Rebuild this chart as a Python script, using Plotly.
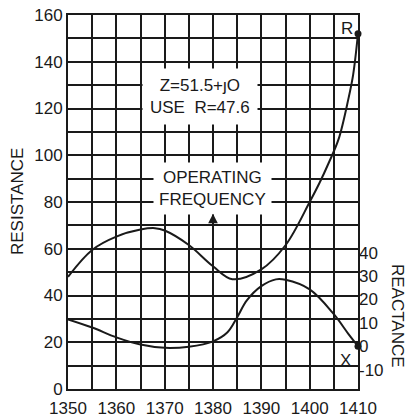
import plotly.graph_objects as go

# Resistance curve (left axis)
r_freq = [1350, 1355, 1360, 1365, 1368, 1370, 1375, 1380, 1384, 1390, 1395, 1400, 1402, 1404, 1406, 1408, 1409, 1410]
r_vals = [48, 59.5, 65.2, 68.2, 68.8, 67.8, 61.6, 52.5, 47.0, 51.2, 61.5, 80, 88, 97, 107, 124, 134.5, 152]

# Reactance curve (right axis)
x_freq = [1350, 1355, 1360, 1365, 1370, 1375, 1380, 1383, 1385, 1387, 1390, 1393, 1395, 1400, 1405, 1408, 1410]
x_vals = [11.5, 8.0, 3.8, 0.7, -0.7, -0.2, 2.1, 6.0, 12.4, 19.6, 25.7, 28.6, 28.4, 24.3, 13.7, 5.3, 0]

x_ticks = [1350, 1360, 1370, 1380, 1390, 1400, 1410]
left_ticks = [0, 20, 40, 60, 80, 100, 120, 140, 160]
right_ticks = [-10, 0, 10, 20, 30, 40]
right_labels = ["-10", "0", "10", "20", "30", "40"]

FONT = "Liberation Sans"
INK = "#1a1a1a"
OFFSET = 18.3

fig = go.Figure()
fig.add_trace(go.Scatter(x=r_freq, y=r_vals, mode="lines", line=dict(color=INK, width=2, shape="spline", smoothing=1.0),
                         showlegend=False, hoverinfo="skip"))
fig.add_trace(go.Scatter(x=[r_freq[-1]], y=[r_vals[-1]], mode="markers", marker=dict(color=INK, size=7),
                         showlegend=False, cliponaxis=False))
fig.add_trace(go.Scatter(x=x_freq, y=x_vals, mode="lines", yaxis="y2",
                         line=dict(color=INK, width=2, shape="spline", smoothing=1.0),
                         showlegend=False, hoverinfo="skip"))
fig.add_trace(go.Scatter(x=[x_freq[-1]], y=[x_vals[-1]], mode="markers", yaxis="y2", marker=dict(color=INK, size=7),
                         showlegend=False, cliponaxis=False))

grid = dict(showgrid=True, gridcolor=INK, gridwidth=1.6, automargin=False)

fig.update_layout(
    width=411, height=420,
    margin=dict(l=68, r=53, t=15, b=31),
    paper_bgcolor="white", plot_bgcolor="white",
    font=dict(family=FONT, size=17, color=INK),
    xaxis=dict(range=[1350, 1410], tickvals=x_ticks, ticks="", zeroline=False,
               showline=True, mirror=True, linecolor=INK, linewidth=2, ticklabelstandoff=3,
               minor=dict(dtick=5, tick0=1350, showgrid=True, gridcolor=INK, gridwidth=1.6),
               tickfont=dict(size=17), **grid),
    yaxis=dict(range=[0, 160], tickvals=left_ticks, ticks="", zeroline=False,
               showline=True, mirror=True, linecolor=INK, linewidth=2,
               minor=dict(dtick=10, tick0=0, showgrid=True, gridcolor=INK, gridwidth=1.6),
               tickfont=dict(size=17), **grid),
    yaxis2=dict(range=[-OFFSET, 160 - OFFSET], overlaying="y", side="right",
                tickvals=right_ticks, ticktext=right_labels, automargin=False,
                showgrid=False, zeroline=False, showline=False, ticks="", tickfont=dict(size=17)),
)

fig.add_annotation(text="Z=51.5+ȷO<br>USE  R=47.6", x=1377.3, y=125.2, xref="x", yref="y",
                   showarrow=False, bgcolor="white", borderpad=7, font=dict(size=17))
fig.add_annotation(text="OPERATING<br>FREQUENCY", x=1379.8, y=85.8, xref="x", yref="y",
                   showarrow=False, bgcolor="white", borderpad=5, font=dict(size=17))
fig.add_annotation(x=1380, y=75, ax=1380, ay=69.5, xref="x", yref="y", axref="x", ayref="y",
                   text="", showarrow=True, arrowhead=2, arrowsize=1.2, arrowwidth=1.6, arrowcolor=INK)
fig.add_annotation(text="R", x=1407.7, y=154.4, xref="x", yref="y", showarrow=False, font=dict(size=17))
fig.add_annotation(text="X", x=1407.5, y=12.4, xref="x", yref="y", showarrow=False, font=dict(size=17))
fig.add_annotation(text="RESISTANCE", x=(17 - 68) / 290, y=0.5, xref="paper", yref="paper",
                   xanchor="center", yanchor="middle",
                   textangle=-90, showarrow=False, font=dict(size=17))
fig.add_annotation(text="REACTANCE", x=(398 - 68) / 290, y=(389 - 316) / 374, xref="paper", yref="paper",
                   xanchor="center", yanchor="middle",
                   textangle=90, showarrow=False, font=dict(size=17))

fig.write_html("out.html", config={"displayModeBar": False},
               post_script="document.body.style.margin='0';document.body.style.padding='0';")
